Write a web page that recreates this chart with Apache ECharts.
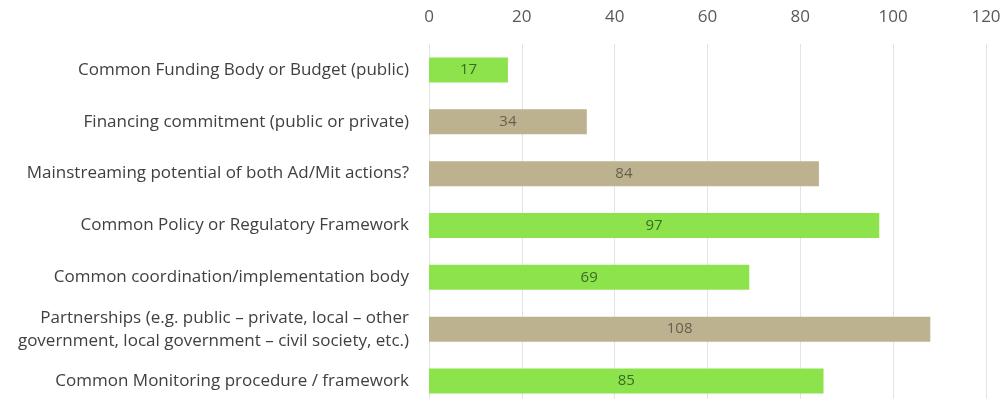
<!DOCTYPE html>
<html>
<head>
<meta charset="utf-8">
<script src="https://cdn.jsdelivr.net/npm/echarts@6/dist/echarts.min.js"></script>
<style>
  html, body { margin: 0; padding: 0; background: #fff; }
  #chart { width: 1003px; height: 399px; }
</style>
</head>
<body>
<div id="chart"></div>
<script>
// Categories listed top to bottom
const categories = [
  'Common Funding Body or Budget (public)',
  'Financing commitment (public or private)',
  'Mainstreaming potential of both Ad/Mit actions?',
  'Common Policy or Regulatory Framework',
  'Common coordination/implementation body',
  'Partnerships (e.g. public \u2013 private, local \u2013 other\ngovernment, local government \u2013 civil society, etc.)',
  'Common Monitoring procedure / framework'
];
const values = [17, 34, 84, 97, 69, 108, 85];
// 'g' = green bar, 't' = tan bar
const barTone = ['g', 't', 't', 'g', 'g', 't', 'g'];
const xTicks = [0, 20, 40, 60, 80, 100, 120];

const tones = {
  g: { fill: '#8de34b', text: '#3a6a24' },
  t: { fill: '#bdb28f', text: '#665f4c' }
};

const chart = echarts.init(document.getElementById('chart'), null, { renderer: 'canvas' });
const fontFamily = '"Open Sans", Lato, sans-serif';

chart.setOption({
  animation: false,
  grid: {
    left: 429, width: 557, top: 44, height: 363,
    containLabel: false,
    outerBoundsMode: 'none'
  },
  xAxis: {
    type: 'value',
    position: 'top',
    min: xTicks[0],
    max: xTicks[xTicks.length - 1],
    interval: 20,
    axisLine: { show: false },
    axisTick: { show: false },
    axisLabel: { color: '#595959', fontSize: 17, fontFamily, margin: 18 },
    splitLine: { show: true, lineStyle: { color: '#e3e3e3', width: 1 } }
  },
  yAxis: {
    type: 'category',
    inverse: true,
    data: categories,
    axisLine: { show: false },
    axisTick: { show: false },
    axisLabel: { color: '#404040', fontSize: 17, fontFamily, margin: 20, align: 'right', lineHeight: 23 }
  },
  series: [{
    type: 'bar',
    barWidth: 25,
    data: values.map((v, i) => ({
      value: v,
      itemStyle: { color: tones[barTone[i]].fill },
      label: { color: tones[barTone[i]].text }
    })),
    label: {
      show: true,
      position: 'inside',
      fontSize: 15,
      fontFamily
    }
  }]
});
</script>
</body>
</html>
